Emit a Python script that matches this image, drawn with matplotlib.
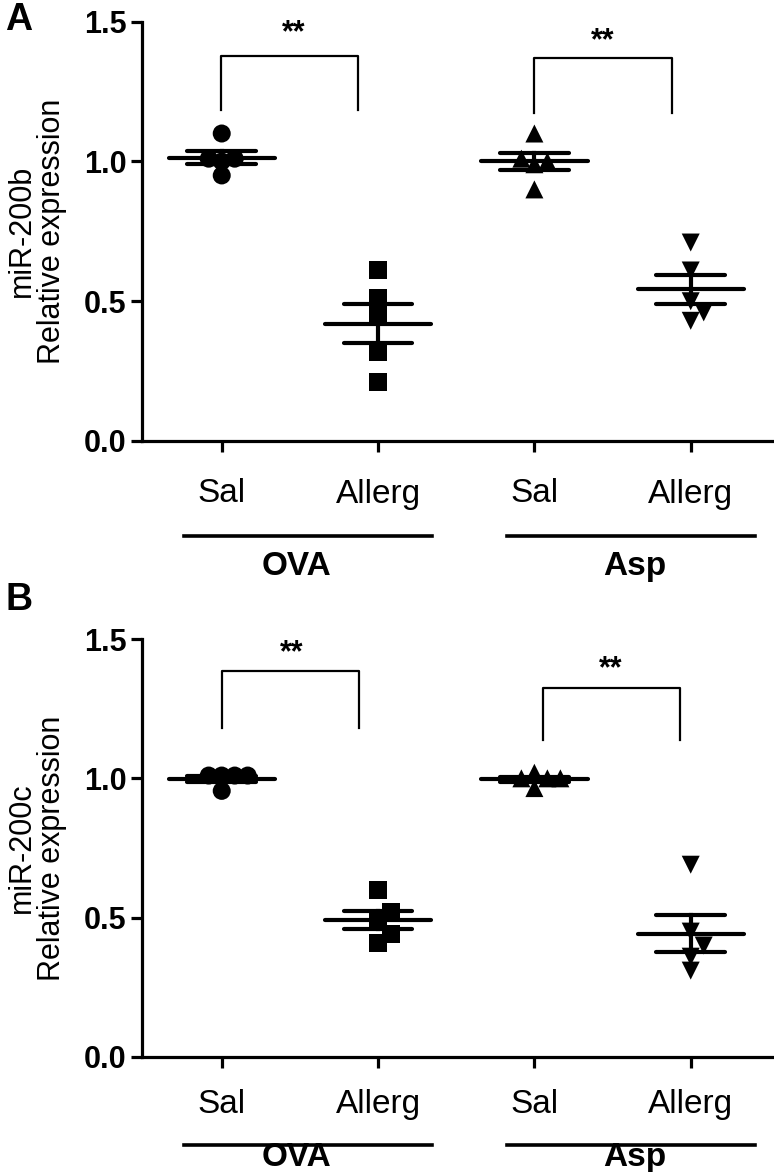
import matplotlib
matplotlib.use("Agg")
import matplotlib.pyplot as plt
import matplotlib.transforms as mtransforms
import numpy as np

plt.rcParams['font.family'] = ['Liberation Sans', 'DejaVu Sans']

# ---------------- data ----------------
tick_labels = ["Sal", "Allerg", "Sal", "Allerg"]
group_names = ["OVA", "Asp"]
markers = ["o", "s", "^", "v"]

# Panel A: miR-200b
a_ova_sal = [1.10, 1.01, 1.00, 1.01, 0.95]
a_ova_allerg = [0.61, 0.51, 0.45, 0.32, 0.21]
a_asp_sal = [1.10, 1.00, 0.99, 1.01, 0.90]
a_asp_allerg = [0.71, 0.61, 0.50, 0.46, 0.43]

# Panel B: miR-200c
b_ova_sal = [1.01, 1.01, 1.01, 1.01, 0.955]
b_ova_allerg = [0.60, 0.52, 0.49, 0.44, 0.41]
b_asp_sal = [1.00, 1.02, 1.00, 1.00, 0.965]
b_asp_allerg = [0.69, 0.45, 0.40, 0.36, 0.31]

yticks = [0.0, 0.5, 1.0, 1.5]

W, H = 774, 1172
fig = plt.figure(figsize=(W / 100, H / 100), dpi=100)

MS_PX = 18.0        # marker size in pixels
STEP_PX = 13.0
COLL_PX = 12.0


def swarm(values, px_per_x, px_per_y):
    order = np.argsort(values)
    placed = []
    offs = np.zeros(len(values))
    cands = [0]
    for j in range(1, 10):
        cands += [j, -j]
    for i in order:
        y = values[i] * px_per_y
        dx = 0.0
        for c in cands:
            dx = c * STEP_PX
            if all(np.hypot(dx - px, y - py) >= COLL_PX for px, py in placed):
                break
        placed.append((dx, y))
        offs[i] = dx / px_per_x
    return offs


def panel(rect, groups, ylabel, letter, letter_y, brackets, stars, gline_y, glabel_y, tickpad):
    ax = fig.add_axes(rect)
    ax.set_xlim(0.49, 4.52)
    ax.set_ylim(0, 1.5)
    for s in ["top", "right"]:
        ax.spines[s].set_visible(False)
    for s in ["left", "bottom"]:
        ax.spines[s].set_linewidth(2.3)
    ax.tick_params(axis="both", width=2.3, length=8, color="black")
    ax.set_yticks(yticks)
    ax.set_yticklabels([f"{v:.1f}" for v in yticks], fontsize=22, fontweight="bold")
    ax.set_xticks([1, 2, 3, 4])
    ax.set_xticklabels(tick_labels, fontsize=24)
    ax.tick_params(axis="x", pad=tickpad)
    ax.tick_params(axis="y", pad=3)

    bbox = ax.get_window_extent()
    px_per_x = bbox.width / (4.52 - 0.49)
    px_per_y = bbox.height / 1.5

    for k, vals in enumerate(groups):
        vals = np.asarray(vals)
        x0 = k + 1
        offs = swarm(vals, px_per_x, px_per_y)
        ax.scatter(x0 + offs, vals, marker=markers[k], s=(MS_PX * 0.72) ** 2,
                   color="black", edgecolors="none", zorder=3, clip_on=False)
        m = vals.mean()
        sem = vals.std(ddof=1) / np.sqrt(len(vals))
        ax.plot([x0 - 0.34, x0 + 0.34], [m, m], color="black", lw=3.0, solid_capstyle="round", zorder=4)
        ax.plot([x0 - 0.22, x0 + 0.22], [m + sem, m + sem], color="black", lw=3.0, solid_capstyle="round", zorder=4)
        ax.plot([x0 - 0.22, x0 + 0.22], [m - sem, m - sem], color="black", lw=3.0, solid_capstyle="round", zorder=4)
        ax.plot([x0, x0], [m - sem, m + sem], color="black", lw=3.0, zorder=4)

    for (xl, xr, ytop, ybot), (sx, sy) in zip(brackets, stars):
        ax.plot([xl, xl, xr, xr], [ybot, ytop, ytop, ybot], color="black", lw=1.6, clip_on=False)
        ax.text(sx, sy, "**", ha="center", va="center", fontsize=22, fontweight="bold")

    trans = mtransforms.blended_transform_factory(ax.transData, ax.transAxes)
    glines = [(0.757, 2.343, 1.48), (2.823, 4.41, 3.64)]
    for (x1, x2, xc), name in zip(glines, group_names):
        ax.plot([x1, x2], [gline_y, gline_y], color="black", lw=2.6, transform=trans, clip_on=False)
        ax.text(xc, glabel_y, name, transform=trans, ha="center", va="center", fontsize=24, fontweight="bold")

    fig.text(37 / W, 0.5 * (rect[1] + rect[1] + rect[3]), ylabel, rotation=90, ha="center", va="center",
             fontsize=22, linespacing=1.0, transform=fig.transFigure)
    fig.text(5 / W, letter_y, letter, fontsize=27, fontweight="bold", ha="left", va="center")
    return ax


axA = panel([142 / W, 1 - 441 / H, 630 / W, (441 - 21.7) / H],
            [a_ova_sal, a_ova_allerg, a_asp_sal, a_asp_allerg],
            "miR-200b\nRelative expression", "A", 1 - 20 / H,
            [(0.994, 1.870, 1.378, 1.184), (2.996, 3.879, 1.37, 1.175)],
            [(1.46, 1.46), (3.44, 1.43)],
            -0.2266, -0.30, 19)

axB = panel([142 / W, 1 - 1057 / H, 630 / W, (1057 - 639) / H],
            [b_ova_sal, b_ova_allerg, b_asp_sal, b_asp_allerg],
            "miR-200c\nRelative expression", "B", 1 - 600 / H,
            [(1.0, 1.876, 1.385, 1.18), (3.054, 3.93, 1.324, 1.137)],
            [(1.45, 1.45), (3.49, 1.39)],
            -0.2105, -0.241, 15)

fig.savefig("out.png", dpi=100)
